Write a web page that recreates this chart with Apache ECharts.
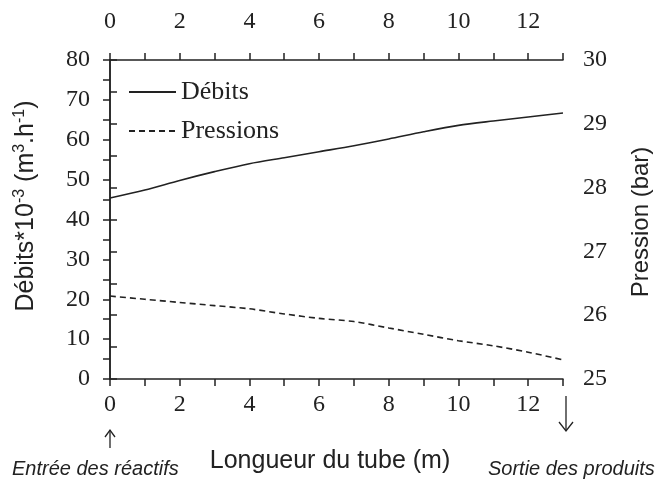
<!DOCTYPE html>
<html>
<head>
<meta charset="utf-8">
<script src="https://cdn.jsdelivr.net/npm/echarts@6/dist/echarts.min.js"></script>
<style>html,body{margin:0;padding:0;background:#fff;}#c{width:655px;height:479px;}</style>
</head>
<body>
<div id="c"></div>
<script>
const longueur = [0, 1, 2, 3, 4, 5, 6, 7, 8, 9, 10, 11, 12, 13];
const debits = [45.4, 47.4, 49.8, 52.0, 54.0, 55.5, 57.0, 58.5, 60.2, 62.0, 63.6, 64.7, 65.7, 66.7];
const pressions = [26.30, 26.25, 26.20, 26.15, 26.10, 26.02, 25.95, 25.90, 25.80, 25.70, 25.60, 25.52, 25.42, 25.30];
const xTickLabels = ['0', '2', '4', '6', '8', '10', '12'];
const leftTickLabels = ['0', '10', '20', '30', '40', '50', '60', '70', '80'];
const rightTickLabels = ['25', '26', '27', '28', '29', '30'];

const serif = 'Liberation Serif';
const sans = 'Liberation Sans';
const ink = '#222';

const axisCommon = {
  axisLine: { show: true, lineStyle: { color: ink, width: 1.5 } },
  axisTick: { show: true, inside: false, length: 7, lineStyle: { color: ink, width: 1.5 } },
  splitLine: { show: false }
};

function xAxisDef(pos) {
  return Object.assign({}, axisCommon, {
    type: 'value', position: pos, min: 0, max: 13, interval: 1,
    axisLabel: {
      margin: pos === 'top' ? 26 : 14,
      fontFamily: serif, fontSize: 24, color: ink,
      formatter: v => xTickLabels.includes(String(v)) ? String(v) : ''
    }
  });
}

const chart = echarts.init(document.getElementById('c'));
chart.setOption({
  backgroundColor: '#fff',
  animation: false,
  grid: { left: 110, right: 92, top: 60, bottom: 100 },
  legend: {
    orient: 'vertical', left: 128, top: 79, padding: 0, itemGap: 13,
    itemWidth: 47, itemHeight: 14,
    itemStyle: { opacity: 0 },
    textStyle: { fontFamily: serif, fontSize: 26, color: ink },
    data: ['Débits', 'Pressions']
  },
  xAxis: [xAxisDef('bottom'), xAxisDef('top')],
  yAxis: [
    Object.assign({}, axisCommon, {
      type: 'value', min: 0, max: 80, interval: 5, position: 'left',
      axisLabel: { margin: 20, fontFamily: serif, fontSize: 24, color: ink,
        formatter: v => leftTickLabels.includes(String(v)) ? String(v) : '' }
    }),
    Object.assign({}, axisCommon, {
      type: 'value', min: 25, max: 30, interval: 0.5, position: 'right',
      axisLabel: { margin: 20, fontFamily: serif, fontSize: 24, color: ink,
        formatter: v => rightTickLabels.includes(String(v)) ? String(v) : '' }
    })
  ],
  series: [
    {
      name: 'Débits', type: 'line', xAxisIndex: 0, yAxisIndex: 0,
      data: longueur.map((x, i) => [x, debits[i]]),
      smooth: 0.3, showSymbol: false, symbol: 'none',
      lineStyle: { color: ink, width: 1.6, type: 'solid' },
      itemStyle: { color: ink }
    },
    {
      name: 'Pressions', type: 'line', xAxisIndex: 0, yAxisIndex: 1,
      data: longueur.map((x, i) => [x, pressions[i]]),
      smooth: 0.3, showSymbol: false, symbol: 'none',
      lineStyle: { color: ink, width: 1.6, type: [6, 4] },
      itemStyle: { color: ink }
    }
  ],
  graphic: [
    { type: 'text', x: 26, y: 206, rotation: Math.PI / 2,
      style: {
        text: '{a|Débits*10}{s|-3}{a| (m}{s|3}{a|.h}{s|-1}{a|)}',
        align: 'center', verticalAlign: 'middle',
        rich: {
          a: { fontFamily: sans, fontSize: 25, fill: ink },
          s: { fontFamily: sans, fontSize: 16, fill: ink, verticalAlign: 'top', padding: [0, 0, 12, 0] }
        }
      } },
    { type: 'text', x: 641, y: 222, rotation: Math.PI / 2,
      style: { text: 'Pression (bar)', align: 'center', verticalAlign: 'middle', font: '24px "Liberation Sans"', fill: ink } },
    { type: 'text', x: 330, y: 461, style: { text: 'Longueur du tube (m)', align: 'center', verticalAlign: 'middle', font: '25px "Liberation Sans"', fill: ink } },
    { type: 'text', left: 12, top: 459, style: { text: 'Entrée des réactifs', font: 'italic 20px "Liberation Sans"', fill: ink } },
    { type: 'text', left: 488, top: 459, style: { text: 'Sortie des produits', font: 'italic 20px "Liberation Sans"', fill: ink } },
    { type: 'polyline', shape: { points: [[110, 448], [110, 430]] }, style: { stroke: ink, lineWidth: 1.3, fill: null } },
    { type: 'polyline', shape: { points: [[105, 437], [110, 430], [115, 437]] }, style: { stroke: ink, lineWidth: 1.3, fill: null } },
    { type: 'polyline', shape: { points: [[566, 396], [566, 431]] }, style: { stroke: ink, lineWidth: 1.3, fill: null } },
    { type: 'polyline', shape: { points: [[559, 422], [566, 431], [573, 422]] }, style: { stroke: ink, lineWidth: 1.3, fill: null } }
  ]
});
</script>
</body>
</html>
